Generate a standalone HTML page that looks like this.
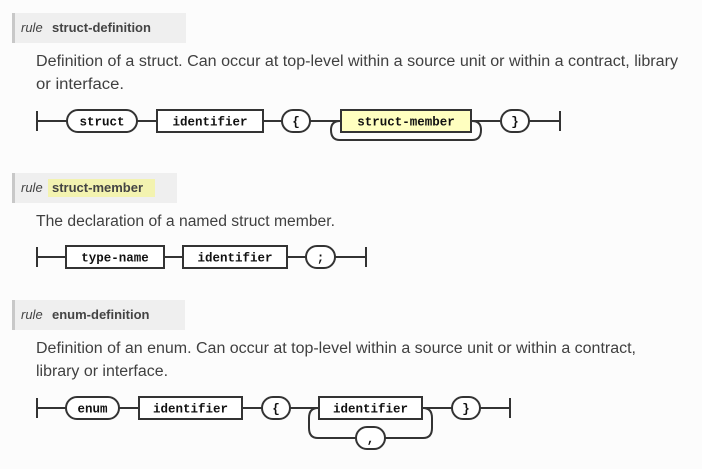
<!DOCTYPE html>
<html><head><meta charset="utf-8"><style>
html,body{margin:0;padding:0;background:#fcfcfc;width:702px;height:469px;overflow:hidden}
svg{display:block}
.h{font-family:"Liberation Sans",sans-serif;font-size:13px;fill:#444}
.p{font-family:"Liberation Sans",sans-serif;font-size:15.5px;fill:#404040}
.c{font-family:"Liberation Mono",monospace;font-size:12.5px;font-weight:bold;fill:#111;text-anchor:middle}
.l{stroke:#333;stroke-width:2;fill:none}
.b{stroke:#333;stroke-width:2;fill:#fff}
</style></head><body>
<svg width="702" height="469" xmlns="http://www.w3.org/2000/svg">
<rect x="12" y="13" width="174" height="30" fill="#efefef"/><rect x="12" y="13" width="3" height="30" fill="#c8c8c8"/>
<text class="h" x="21" y="32"><tspan font-style="italic">rule</tspan><tspan x="52" font-weight="bold">struct-definition</tspan></text>
<text class="p" x="36" y="66" textLength="642" lengthAdjust="spacingAndGlyphs">Definition of a struct. Can occur at top-level within a source unit or within a contract, library</text>
<text class="p" x="36" y="89" textLength="88" lengthAdjust="spacingAndGlyphs">or interface.</text>
<path class="l" d="M37 111V131M37 121H67M137 121H157M263 121H282M310 121H341M471 121H500M529 121H560M560 111V131"/>
<path class="l" d="M341 121H340Q331 121 331 130Q331 140 340 140H472Q481 140 481 130Q481 121 472 121"/>
<rect class="b" x="67" y="110" width="70" height="22" rx="11"/><text class="c" x="102" y="125.5">struct</text>
<rect class="b" x="157" y="110" width="106" height="22"/><text class="c" x="210" y="125.5">identifier</text>
<rect class="b" x="282" y="110" width="28" height="22" rx="11"/><text class="c" x="296" y="125.5">{</text>
<rect class="b" x="341" y="110" width="130" height="22" style="fill:#ffffc0"/><text class="c" x="406" y="125.5">struct-member</text>
<rect class="b" x="501" y="110" width="28" height="22" rx="11"/><text class="c" x="515" y="125.5">}</text>
<rect x="12" y="173" width="165" height="30" fill="#efefef"/><rect x="12" y="173" width="3" height="30" fill="#c8c8c8"/>
<rect x="48" y="179" width="107" height="18" fill="#f3f3b0"/>
<text class="h" x="21" y="192"><tspan font-style="italic">rule</tspan><tspan x="52" font-weight="bold">struct-member</tspan></text>
<text class="p" x="36" y="226" textLength="299" lengthAdjust="spacingAndGlyphs">The declaration of a named struct member.</text>
<path class="l" d="M37 247V267M37 257H66M164 257H183M287 257H306M335 257H366M366 247V267"/>
<rect class="b" x="66" y="246" width="98" height="22"/><text class="c" x="115" y="261.5">type-name</text>
<rect class="b" x="183" y="246" width="104" height="22"/><text class="c" x="235" y="261.5">identifier</text>
<rect class="b" x="306" y="246" width="29" height="22" rx="11"/><text class="c" x="320.5" y="261.5">;</text>
<rect x="12" y="300" width="173" height="30" fill="#efefef"/><rect x="12" y="300" width="3" height="30" fill="#c8c8c8"/>
<text class="h" x="21" y="319"><tspan font-style="italic">rule</tspan><tspan x="52" font-weight="bold">enum-definition</tspan></text>
<text class="p" x="36" y="353" textLength="600" lengthAdjust="spacingAndGlyphs">Definition of an enum. Can occur at top-level within a source unit or within a contract,</text>
<text class="p" x="36" y="376" textLength="132" lengthAdjust="spacingAndGlyphs">library or interface.</text>
<path class="l" d="M37 398V418M37 408H66M119 408H139M242 408H262M290 408H319M422 408H452M480 408H510M510 398V418"/>
<path class="l" d="M319 408H318Q309 408 309 418V428Q309 438 318 438H356M385 438H423Q432 438 432 428V418Q432 408 423 408"/>
<rect class="b" x="66" y="397" width="53" height="22" rx="11"/><text class="c" x="92.5" y="412.5">enum</text>
<rect class="b" x="139" y="397" width="103" height="22"/><text class="c" x="190.5" y="412.5">identifier</text>
<rect class="b" x="262" y="397" width="28" height="22" rx="11"/><text class="c" x="276" y="412.5">{</text>
<rect class="b" x="319" y="397" width="103" height="22"/><text class="c" x="370.5" y="412.5">identifier</text>
<rect class="b" x="356" y="427" width="29" height="22" rx="11"/><text class="c" x="370.5" y="442.5">,</text>
<rect class="b" x="452" y="397" width="28" height="22" rx="11"/><text class="c" x="466" y="412.5">}</text>
</svg>
</body></html>
